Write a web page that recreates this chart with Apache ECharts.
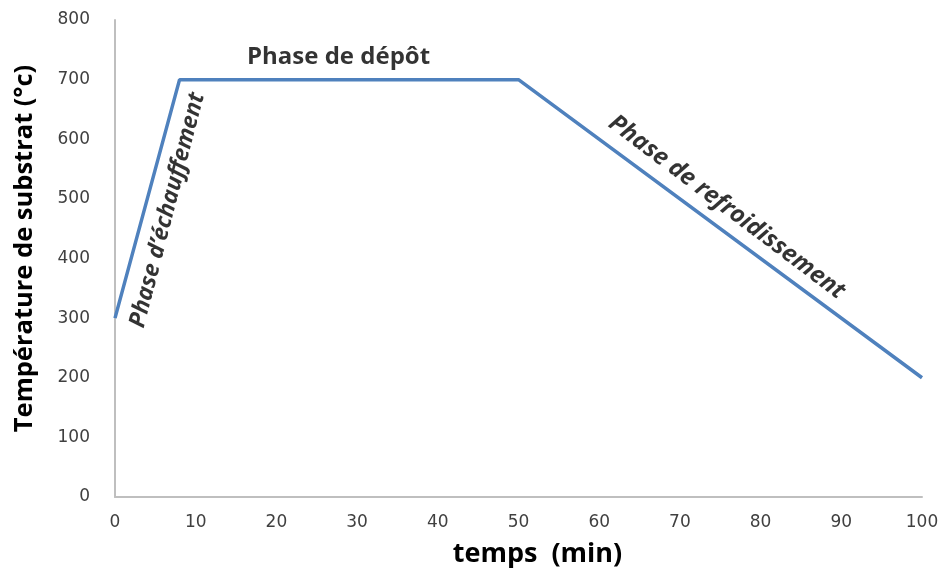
<!DOCTYPE html>
<html>
<head>
<meta charset="utf-8">
<script src="https://cdn.jsdelivr.net/npm/echarts@6/dist/echarts.min.js"></script>
<style>
  html, body { margin: 0; padding: 0; background: #fff; }
  #chart { width: 946px; height: 576px; }
</style>
</head>
<body>
<div id="chart"></div>
<script>
// profil de température : temps (min) -> température (°C)
const temps = [0, 8, 50, 100]
const temperature = [300, 700, 700, 200]

// annotations des phases (position en coordonnées données)
const phaseLabels = ['Phase de dépôt', 'Phase d\u2019échauffement', 'Phase de refroidissement']
const phaseX = [27.7, 6.5, 75.8]
const phaseY = [738, 481, 486]
const phaseRotate = [0, 75.5, -37]
const phaseItalic = [false, true, true]
const phaseSize = [24, 23, 24]

const chart = echarts.init(document.getElementById('chart'))

const font = '"Open Sans", "Noto Sans", sans-serif'
const tickFont = '"DejaVu Sans", sans-serif'

const option = {
  animation: false,
  grid: { left: 115, right: 24, top: 20, bottom: 79 },
  xAxis: {
    type: 'value',
    min: 0,
    max: 100,
    interval: 10,
    name: 'temps  (min)',
    nameLocation: 'middle',
    nameGap: 44,
    nameTextStyle: { fontFamily: font, fontWeight: 'bold', fontSize: 27, color: '#000', padding: [0, 0, 0, 38] },
    axisLine: { lineStyle: { color: '#bfbfbf', width: 2 } },
    axisTick: { show: false },
    splitLine: { show: false },
    axisLabel: { fontFamily: tickFont, fontSize: 17, color: '#404040', margin: 17 },
  },
  yAxis: {
    type: 'value',
    min: 0,
    max: 800,
    interval: 100,
    name: 'Température de substrat (°c)',
    nameLocation: 'middle',
    nameGap: 77,
    nameTextStyle: { fontFamily: font, fontWeight: 'bold', fontSize: 25.5, color: '#000', padding: [0, 0, 0, 20] },
    axisLine: { show: true, lineStyle: { color: '#bfbfbf', width: 2 } },
    axisTick: { show: false },
    splitLine: { show: false },
    axisLabel: { fontFamily: tickFont, fontSize: 17, color: '#404040', margin: 25 },
  },
  series: [
    {
      type: 'line',
      data: temps.map((t, i) => [t, temperature[i]]),
      showSymbol: false,
      lineStyle: { color: '#4f81bd', width: 3.5 },
    },
    {
      type: 'scatter',
      symbolSize: 0,
      silent: true,
      data: phaseLabels.map((txt, i) => ({
        value: [phaseX[i], phaseY[i]],
        label: {
          show: true,
          position: 'inside',
          formatter: txt,
          rotate: phaseRotate[i],
          fontStyle: phaseItalic[i] ? 'italic' : 'normal',
          fontWeight: 'bold',
          fontFamily: font,
          fontSize: phaseSize[i],
          color: '#000',
          textBorderWidth: 0,
        },
      })),
    },
  ],
}

chart.setOption(option)
window.addEventListener('resize', () => chart.resize())
</script>
</body>
</html>
